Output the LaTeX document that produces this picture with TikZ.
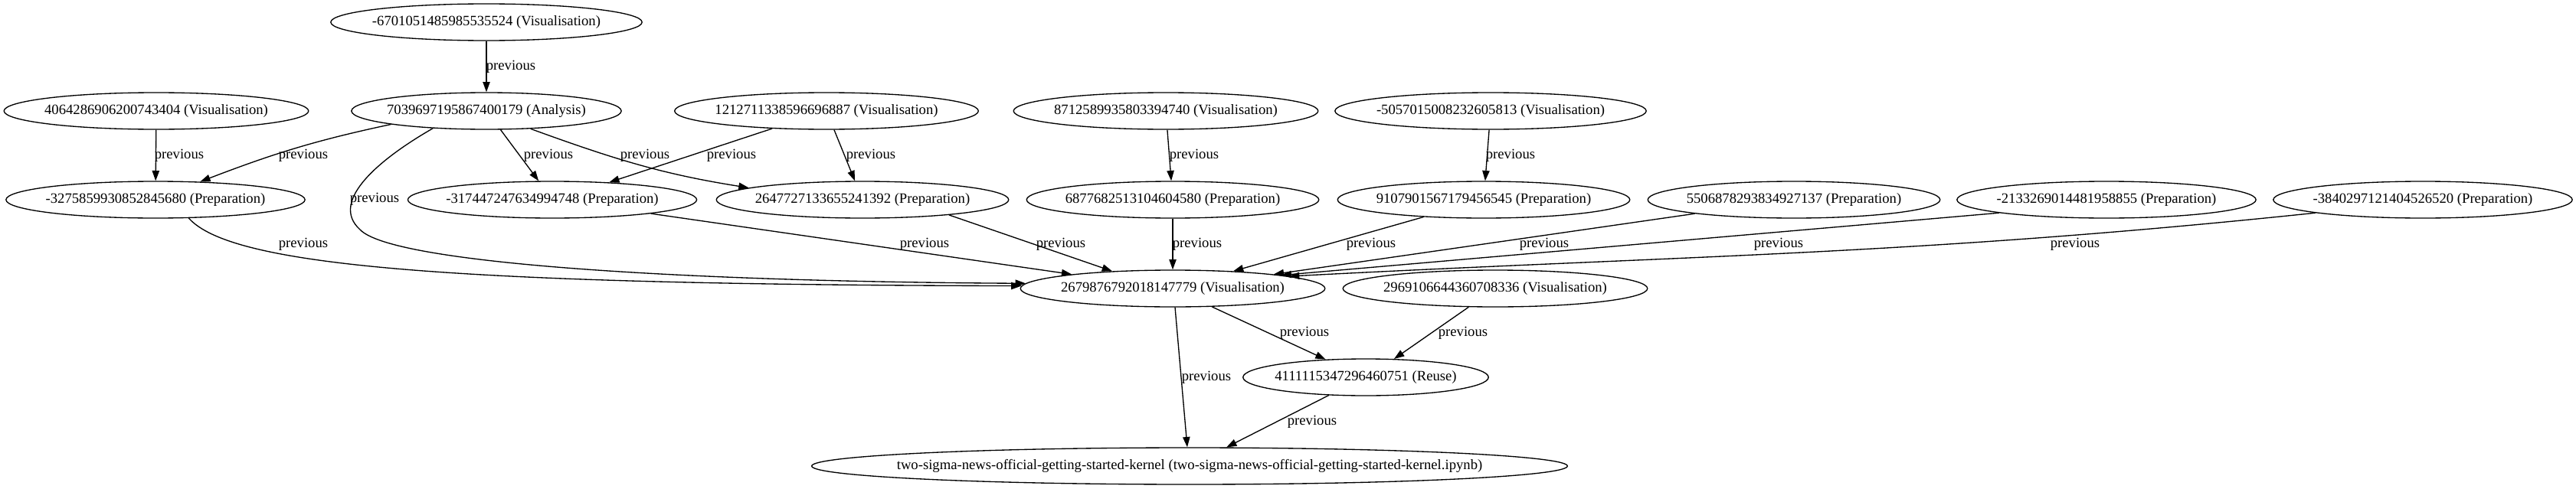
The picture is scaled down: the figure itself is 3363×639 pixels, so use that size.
\documentclass[tikz,border=0pt]{standalone}
\usepackage{fontspec}
\setmainfont{Liberation Serif}
\usetikzlibrary{arrows.meta,shapes.geometric}

\begin{document}
\begin{tikzpicture}[
    x=0.75pt, y=-0.75pt,
    line width=1pt,
    % Cell style: plain ellipse, one per notebook cell
    cell/.style={
        ellipse,
        draw=black,
        minimum height=36pt,
        inner xsep=-4pt,
        inner ysep=0pt,
        font=\fontsize{14}{16}\selectfont,
        },
    prev/.style={-{Triangle[length=10pt,width=7pt]}},
    lbl/.style={font=\fontsize{14}{16}\selectfont, inner sep=0pt},
    ]
    \useasboundingbox (0,0) rectangle (3363,639);

    % cells, row by row
    \node [cell] (n6701) at (635,29) {-6701051485985535524 (Visualisation)};

    \node [cell] (n4064) at (204,145) {4064286906200743404 (Visualisation)};
    \node [cell] (n7039) at (635,145) {7039697195867400179 (Analysis)};
    \node [cell] (n1212) at (1079,145) {1212711338596696887 (Visualisation)};
    \node [cell] (n8712) at (1522,145) {8712589935803394740 (Visualisation)};
    \node [cell] (n5057) at (1946,145) {-5057015008232605813 (Visualisation)};

    \node [cell] (n3275) at (203,261) {-3275859930852845680 (Preparation)};
    \node [cell] (n3174) at (721,261) {-317447247634994748 (Preparation)};
    \node [cell] (n2647) at (1126,261) {2647727133655241392 (Preparation)};
    \node [cell] (n6877) at (1531,261) {6877682513104604580 (Preparation)};
    \node [cell] (n9107) at (1937,261) {9107901567179456545 (Preparation)};
    \node [cell] (n5506) at (2342,261) {5506878293834927137 (Preparation)};
    \node [cell] (n2133) at (2750,261) {-2133269014481958855 (Preparation)};
    \node [cell] (n3840) at (3163,261) {-3840297121404526520 (Preparation)};

    \node [cell] (n2679) at (1531,377) {2679876792018147779 (Visualisation)};
    \node [cell] (n2969) at (1952,377) {2969106644360708336 (Visualisation)};

    \node [cell] (n4111) at (1783,493) {4111115347296460751 (Reuse)};

    \node [cell, inner xsep=-25pt] (kernel) at (1553,609)
        {two-sigma-news-official-getting-started-kernel (two-sigma-news-official-getting-started-kernel.ipynb)};

    % edges
    \draw [prev] (n6701) -- (n7039);
    \draw [prev] (n4064) -- (n3275);
    \draw [prev] (n7039.188) to[out=192, in=21] (n3275.22);
    \draw [prev] (n7039.-53) -- (n3174.126);
    \draw [prev] (n7039.-22) to[out=-20, in=171] (n2647.174);
    \draw [prev] (n7039.198) .. controls (500,205) and (428,262) .. (470,300)
        .. controls (512,345) and (900,368) .. (n2679.178);
    \draw [prev] (n1212.198) -- (n3174.17);
    \draw [prev] (n1212.-68) -- (n2647.112);
    \draw [prev] (n8712) -- (n6877);
    \draw [prev] (n5057) -- (n9107);
    \draw [prev] (n3275.-29) .. controls (300,345) and (560,372) .. (n2679.179);
    \draw [prev] (n3174.-8) -- (n2679.172);
    \draw [prev] (n2647.-10) -- (n2679.164);
    \draw [prev] (n6877) -- (n2679);
    \draw [prev] (n9107.196) -- (n2679.16);
    \draw [prev] (n5506.188) -- (n2679.8);
    \draw [prev] (n2133.187) -- (n2679.7);
    \draw [prev] (n3840.187) to[out=186, in=3] (n2679.6);
    \draw [prev] (n2679.-25) -- (n4111.156);
    \draw [prev] (n2969.-145) -- (n4111.33);
    \draw [prev] (n2679.-83) -- (kernel.97);
    \draw [prev] (n4111.206) -- (kernel.27);

    % edge labels
    \node [lbl] (l1) at (667,87) {previous};
    \node [lbl] (l2) at (234,203) {previous};
    \node [lbl] (l3) at (396,203) {previous};
    \node [lbl] (l4) at (716,203) {previous};
    \node [lbl] (l5) at (842,203) {previous};
    \node [lbl] (l6) at (955,203) {previous};
    \node [lbl] (l7) at (1137,203) {previous};
    \node [lbl] (l8) at (1559,203) {previous};
    \node [lbl] (l9) at (1972,203) {previous};
    \node [lbl] (l10) at (489,260) {previous};
    \node [lbl] (l11) at (396,319) {previous};
    \node [lbl] (l12) at (1207,319) {previous};
    \node [lbl] (l13) at (1385,319) {previous};
    \node [lbl] (l14) at (1563,319) {previous};
    \node [lbl] (l15) at (1790,319) {previous};
    \node [lbl] (l16) at (2016,319) {previous};
    \node [lbl] (l17) at (2322,319) {previous};
    \node [lbl] (l18) at (2709,319) {previous};
    \node [lbl] (l19) at (1703,435) {previous};
    \node [lbl] (l20) at (1910,435) {previous};
    \node [lbl] (l21) at (1575,493) {previous};
    \node [lbl] (l22) at (1713,551) {previous};

\end{tikzpicture}
\end{document}
